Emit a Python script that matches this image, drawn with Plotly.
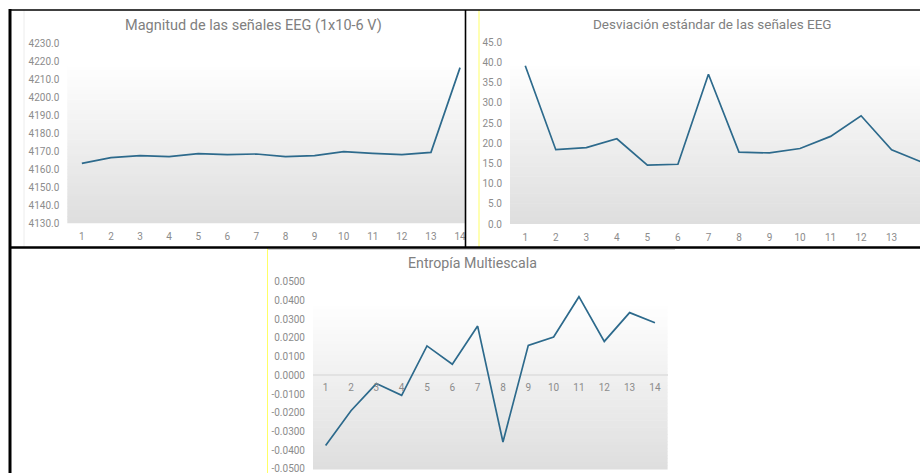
import plotly.graph_objects as go

# Session index shared by the three charts
sessions = list(range(1, 15))

# Mean magnitude of the EEG signals (x1e-6 V)
magnitude = [4163.3, 4166.5, 4167.6, 4167.0, 4168.7, 4168.1, 4168.5,
             4167.0, 4167.6, 4169.8, 4168.9, 4168.1, 4169.4, 4216.5]

# Standard deviation of the EEG signals
std_dev = [39.2, 18.4, 18.9, 21.1, 14.6, 14.8, 37.1,
           17.8, 17.6, 18.7, 21.7, 26.8, 18.4, 15.3]

# Multiscale entropy
entropy = [-0.0375, -0.0189, -0.0044, -0.0107, 0.0157, 0.0059, 0.0263,
           -0.0356, 0.0160, 0.0205, 0.0420, 0.0181, 0.0335, 0.0281]

# Axis tick values
mag_ticks = [4130, 4140, 4150, 4160, 4170, 4180, 4190, 4200, 4210, 4220, 4230]
std_ticks = [0, 5, 10, 15, 20, 25, 30, 35, 40, 45]
ent_ticks = [-0.05, -0.04, -0.03, -0.02, -0.01, 0.0, 0.01, 0.02, 0.03, 0.04, 0.05]

titles = ["Magnitud de las señales EEG (1x10-6 V)",
          "Desviación estándar de las señales EEG",
          "Entropía Multiescala"]

W, H = 920, 473
FONT = "Roboto"
LINE = "#2d6a8c"
TITLE_C = "#808080"
TICK_C = "#8c8c8c"


def px(x):
    return x / W


def py(y):
    return 1 - y / H


fig = go.Figure()
for ys, xa, ya in [(magnitude, "x", "y"), (std_dev, "x2", "y2"), (entropy, "x3", "y3")]:
    fig.add_trace(go.Scatter(x=sessions, y=ys, mode="lines", xaxis=xa, yaxis=ya,
                             line=dict(color=LINE, width=1.7), showlegend=False,
                             hoverinfo="x+y"))

tickfont = dict(family=FONT, size=10, color=TICK_C)
common = dict(showgrid=False, zeroline=False, showline=False, ticks="",
              tickfont=tickfont, fixedrange=True, automargin=False,
              ticklabeloverflow="allow")
xcat = dict(tickvals=sessions, ticktext=[str(s) for s in sessions], **common)

layout = dict(
    width=W, height=H, autosize=False,
    margin=dict(l=0, r=0, t=0, b=0, pad=0, autoexpand=False),
    paper_bgcolor="white", plot_bgcolor="rgba(0,0,0,0)",
    showlegend=False,
    xaxis=dict(domain=[px(67.3), px(465)], range=[0.5, 14.17], anchor="y",
               ticklabelstandoff=6, **xcat),
    yaxis=dict(domain=[py(223.3), py(43.3)], range=[4130, 4230], anchor="x",
               tickvals=mag_ticks, ticktext=[f"{v:.1f}" for v in mag_ticks],
               ticklabelstandoff=7, **common),
    xaxis2=dict(domain=[px(510), 1.0], range=[0.5, 13.93], anchor="y2",
                ticklabelstandoff=6, **xcat),
    yaxis2=dict(domain=[py(224), py(42.3)], range=[0, 45], anchor="x2",
                tickvals=std_ticks, ticktext=[f"{v:.1f}" for v in std_ticks],
                ticklabelstandoff=7, **common),
    xaxis3=dict(domain=[px(313), px(667.6)], range=[0.5, 14.5], anchor="free",
                position=py(375.35), ticklabelstandoff=5, **xcat),
    yaxis3=dict(domain=[py(469.5), py(281.7)], range=[-0.0503, 0.05], anchor="x3",
                tickvals=ent_ticks, ticktext=[f"{v:.4f}" for v in ent_ticks],
                ticklabelstandoff=7,
                **{**common, "zeroline": True}, zerolinecolor="#e2e2e2",
                zerolinewidth=2),
)

# Plot-area background: white at the top fading to light grey at the bottom
shapes = []
N = 48
TOP = 0.89
for xd, yd in [("x domain", "y domain"), ("x2 domain", "y2 domain"), ("x3 domain", "y3 domain")]:
    for i in range(N):
        t = (i + 0.5) / N
        g = round(222 + (255 - 222) * t)
        shapes.append(dict(type="rect", xref=xd, yref=yd, layer="below",
                           x0=0, x1=1, y0=i * TOP / N, y1=(i + 1) * TOP / N + 0.003,
                           fillcolor=f"rgb({g},{g},{g})", line=dict(width=0)))


def hline(x0, x1, y, color="black", width=2):
    shapes.append(dict(type="line", xref="paper", yref="paper", layer="above",
                       x0=px(x0), x1=px(x1), y0=py(y), y1=py(y),
                       line=dict(color=color, width=width)))


def vline(x, y0, y1, color="black", width=2):
    shapes.append(dict(type="line", xref="paper", yref="paper", layer="above",
                       x0=px(x), x1=px(x), y0=py(y0), y1=py(y1),
                       line=dict(color=color, width=width)))


# Frame lines around the three panels
vline(24, 10, 247, color="#ececec", width=1)
vline(479, 10, 247, color="#ffff66", width=1)
vline(267.5, 248, 473, color="#ffff66", width=1)
hline(268, 675, 249.5, color="#d0d0d0", width=1)
hline(9, 920, 10, width=1.6)
hline(9, 920, 247.5, width=2.5)
vline(10, 9, 473, width=3)
vline(465.5, 10, 247, width=1.6)

layout["shapes"] = shapes

layout["annotations"] = [
    dict(text=titles[0], x=px(253), y=py(25), xref="paper", yref="paper",
         showarrow=False, xanchor="center", yanchor="middle",
         font=dict(family=FONT, size=14.5, color=TITLE_C)),
    dict(text=titles[1], x=px(712), y=py(24), xref="paper", yref="paper",
         showarrow=False, xanchor="center", yanchor="middle",
         font=dict(family=FONT, size=13.5, color=TITLE_C)),
    dict(text=titles[2], x=px(472), y=py(263), xref="paper", yref="paper",
         showarrow=False, xanchor="center", yanchor="middle",
         font=dict(family=FONT, size=14.2, color=TITLE_C)),
]

fig.update_layout(**layout)
fig.write_html("out.html")
